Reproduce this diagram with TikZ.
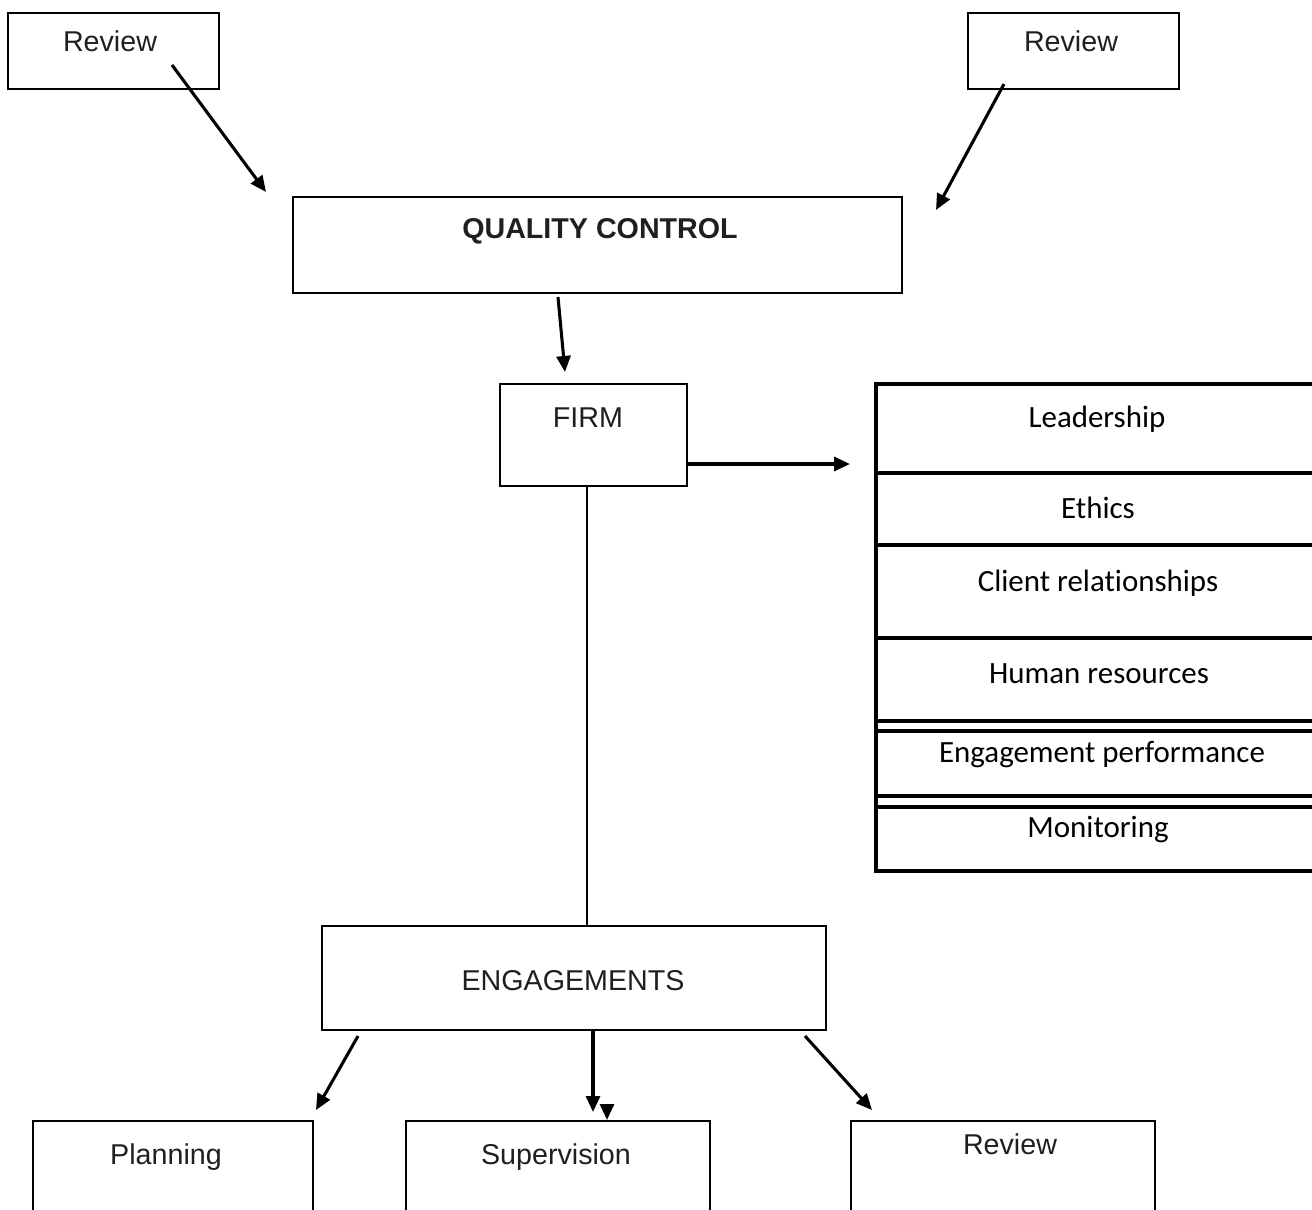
\documentclass[tikz,border=0pt]{standalone}
\usepackage{fontspec}
\setmainfont{Liberation Sans}
\newfontfamily\calfont[Ligatures=NoCommon]{Carlito}
\usetikzlibrary{arrows.meta,calc,fit}

\begin{document}
\begin{tikzpicture}[x=0.75pt,y=-0.75pt,
  box/.style={draw=black, line width=1.5pt, inner sep=0pt, outer sep=0pt, rectangle},
  stackbox/.style={draw=black, line width=2.3pt, inner sep=0pt, outer sep=0pt, rectangle},
  sep/.style={line width=2.3pt},
  lbl/.style={anchor=base, inner sep=0pt, font=\fontsize{21.5}{24}\selectfont, text=black!88},
  item/.style={anchor=base, inner sep=0pt, font=\calfont\fontsize{23.2}{26}\selectfont},
  arr/.style={line width=2.3pt, -{Triangle[length=12pt,width=10.5pt]}},
  link/.style={line width=1.5pt}
]
\useasboundingbox (0,0) rectangle (1312,1209);
\clip (0,0) rectangle (1312,1209);

% top review boxes
\node[box, fit={(8,13) (219,89)}] (rv1) {};
\node[lbl] (rv1t) at (110,52) {Review};
\node[box, fit={(968,13) (1179,89)}] (rv2) {};
\node[lbl] (rv2t) at (1071,52) {Review};

% quality control
\node[box, fit={(293,197) (902,293)}] (qc) {};
\node[lbl, font=\bfseries\fontsize{21.5}{24}\selectfont] (qct) at (600,238) {QUALITY CONTROL};

% firm
\node[box, fit={(500,384) (687,486)}] (firm) {};
\node[lbl] (firmt) at (588,427) {FIRM};

% elements of the system
\node[stackbox, fit={(876,384) (1330,871)}] (stk) {};
\draw[sep] (stk.west |- 0,473) -- (1330,473);
\draw[sep] (stk.west |- 0,545) -- (1330,545);
\draw[sep] (stk.west |- 0,638) -- (1330,638);
\draw[sep] (stk.west |- 0,721) -- (1330,721);
\draw[sep] (stk.west |- 0,731) -- (1330,731);
\draw[sep] (stk.west |- 0,796) -- (1330,796);
\draw[sep] (stk.west |- 0,807) -- (1330,807);
\node[item] (s1) at (1097,427) {Leadership};
\node[item] (s2) at (1098,518) {Ethics};
\node[item] (s3) at (1098,591) {Client relationships};
\node[item] (s4) at (1099,683) {Human resources};
\node[item] (s5) at (1102,762) {Engagement performance};
\node[item] (s6) at (1098,837) {Monitoring};

% engagements
\node[box, fit={(322,926) (826,1030)}] (eng) {};
\node[lbl] (engt) at (573,990) {ENGAGEMENTS};

% engagement level boxes
\node[box, fit={(33,1121) (313,1240)}] (plan) {};
\node[lbl] (plant) at (166,1164) {Planning};
\node[box, fit={(406,1121) (710,1240)}] (sup) {};
\node[lbl] (supt) at (556,1164) {Supervision};
\node[box, fit={(851,1121) (1155,1240)}] (rv3) {};
\node[lbl] (rv3t) at (1010,1154) {Review};

% connectors
\coordinate (stkin) at ($(stk.north west)+(-26,80)$);
\draw[arr] ($(rv1.south west)+(164,-24)$) -- ($(qc.north west)+(-27,-5)$);
\draw[arr] ($(rv2.south west)+(36,-5)$) -- ($(qc.north east)+(34,13)$);
\draw[arr] ($(qc.south west)+(265,4)$) -- ($(firm.north west)+(65,-12)$);
\draw[arr] (firm.east |- stkin) -- (stkin);
\draw[link] ($(firm.south west)+(87,0)$) -- ($(eng.north west)+(265,0)$);
\draw[arr] ($(eng.south west)+(36,6)$) -- ($(plan.north east)+(3,-11)$);
\draw[arr] ($(eng.south west)+(271,0)$) -- ($(sup.north west)+(187,-9)$);
\draw[arr] ($(sup.north west)+(201,-17)$) -- ($(sup.north west)+(201,-1)$);
\draw[arr] ($(eng.south east)+(-21,6)$) -- ($(rv3.north west)+(21,-11)$);
\end{tikzpicture}
\end{document}
